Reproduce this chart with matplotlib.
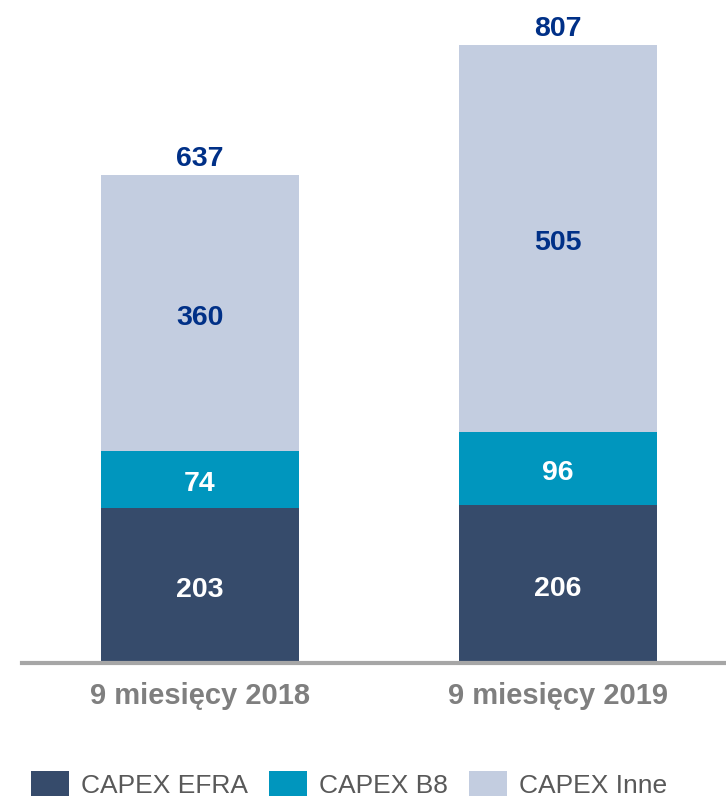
import matplotlib
matplotlib.use("Agg")
import matplotlib.pyplot as plt
from matplotlib.patches import Patch
from matplotlib.transforms import offset_copy

plt.rcParams['font.family'] = ['Liberation Sans', 'DejaVu Sans']

categories = ["9 miesięcy 2018", "9 miesięcy 2019"]
series_names = ["CAPEX EFRA", "CAPEX B8", "CAPEX Inne"]
efra = [203, 206]
b8 = [74, 96]
inne = [360, 505]
totals = [637, 807]

colors = ["#364B6B", "#0096BE", "#C3CDE0"]
label_colors = ["white", "white", "#003087"]

fig = plt.figure(figsize=(7.26, 8.0), dpi=100)
ax = fig.add_axes([22 / 726, 137 / 800, 704 / 726, 618 / 800])

# nudge segment labels slightly below the geometric centre
seg_tr = offset_copy(ax.transData, fig=fig, x=0, y=-2, units="dots")
top_tr = offset_copy(ax.transData, fig=fig, x=0, y=3, units="dots")

x = list(range(len(categories)))
width = 0.553
bottom = [0] * len(categories)
for vals, col, lc in zip([efra, b8, inne], colors, label_colors):
    ax.bar(x, vals, width, bottom=bottom, color=col, edgecolor="none", zorder=2)
    for xi, v, b in zip(x, vals, bottom):
        ax.text(xi, b + v / 2, str(v), ha="center", va="center_baseline",
                fontsize=20.5, fontweight="bold", color=lc, zorder=3,
                transform=seg_tr)
    bottom = [b + v for b, v in zip(bottom, vals)]

for xi, t in zip(x, totals):
    ax.text(xi, t, str(t), ha="center", va="bottom", fontsize=20.5,
            fontweight="bold", color="#003087", clip_on=False, transform=top_tr)

ax.set_xlim(-0.497, 1.469)
ax.set_ylim(0, 807)
for s in ["top", "right", "left"]:
    ax.spines[s].set_visible(False)
ax.spines["bottom"].set_color("#A6A6A6")
ax.spines["bottom"].set_linewidth(3)
ax.set_yticks([])
ax.set_xticks(x)
ax.set_xticklabels(categories, fontsize=21, fontweight="bold", color="#7F7F7F")
ax.tick_params(axis="x", length=0, pad=14)

handles = [Patch(facecolor=c, edgecolor="none") for c in colors]
fig.legend(handles, series_names, loc="center left", bbox_to_anchor=(31 / 726, 0.0195),
           ncol=3, frameon=False, fontsize=19, labelcolor="#595959",
           handlelength=1.44, handleheight=1.05, handletextpad=0.45,
           columnspacing=0.8, borderaxespad=0, borderpad=0)

fig.savefig("out.png", dpi=100)
